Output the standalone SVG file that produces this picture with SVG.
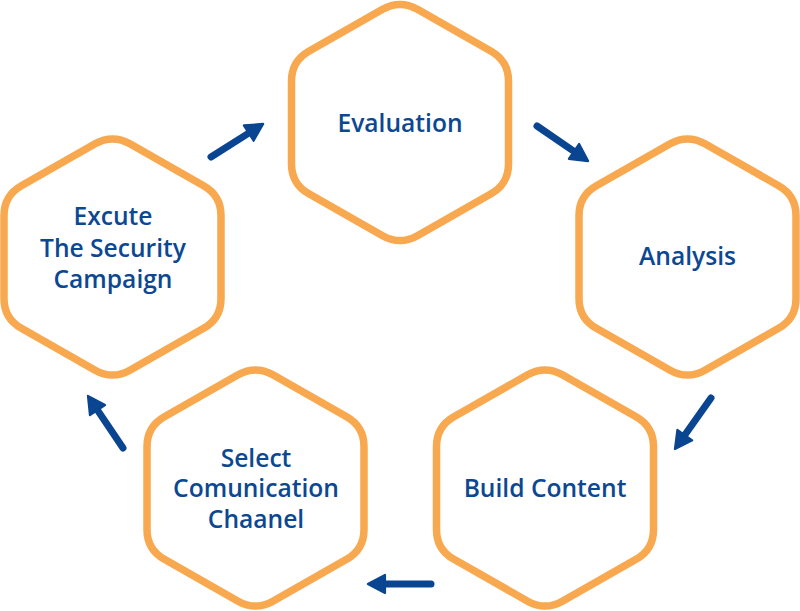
<svg xmlns="http://www.w3.org/2000/svg" width="800" height="611" viewBox="0 0 800 611">
<style>
.hex{fill:#ffffff;stroke:#f8a84f;stroke-width:7.5}
.lbl{font-family:"Open Sans","Noto Sans",sans-serif;font-weight:600;font-size:24.6px;fill:#0c4892;text-anchor:middle}
.arr{stroke:#0a4591;stroke-width:7;stroke-linecap:round;fill:none;marker-end:url(#head)}
</style>
<defs>
<path id="hexshape" d="M17.4,-113.14 L91.1,-71.36 Q108.5,-61.5 108.5,-41.5 L108.5,41.5 Q108.5,61.5 91.1,71.36 L17.4,113.14 Q0,123 -17.4,113.14 L-91.1,71.36 Q-108.5,61.5 -108.5,41.5 L-108.5,-41.5 Q-108.5,-61.5 -91.1,-71.36 L-17.4,-113.14 Q0,-123 17.4,-113.14Z"/>
<marker id="head" markerUnits="userSpaceOnUse" markerWidth="30" markerHeight="30" viewBox="-4 -14 26 28" refX="0" refY="0" orient="auto">
<path d="M0,-8.5 L16,0 L0,8.5 Z" fill="#0a4591" stroke="#0a4591" stroke-width="2" stroke-linejoin="round"/>
</marker>
</defs>
<rect width="800" height="611" fill="#ffffff"/>
<g id="node-evaluation">
<use href="#hexshape" class="hex" transform="translate(400,122.5)"/>
<text class="lbl" x="400" y="131.5">Evaluation</text>
</g>
<g id="node-analysis">
<use href="#hexshape" class="hex" transform="translate(687.5,257)"/>
<text class="lbl" x="687.5" y="265">Analysis</text>
</g>
<g id="node-build-content">
<use href="#hexshape" class="hex" transform="translate(545,488)"/>
<text class="lbl" x="545" y="497">Build Content</text>
</g>
<g id="node-select-channel">
<use href="#hexshape" class="hex" transform="translate(255.5,488)"/>
<text class="lbl" x="256" y="467">Select</text>
<text class="lbl" x="256" y="497">Comunication</text>
<text class="lbl" x="256" y="528">Chaanel</text>
</g>
<g id="node-execute">
<use href="#hexshape" class="hex" transform="translate(112.5,257)"/>
<text class="lbl" x="113" y="225">Excute</text>
<text class="lbl" x="113" y="257">The Security</text>
<text class="lbl" x="113" y="288">Campaign</text>
</g>
<g id="connectors">
<line class="arr" x1="211" y1="157" x2="248.7" y2="133.1"/>
<line class="arr" x1="537" y1="126" x2="574" y2="151.4"/>
<line class="arr" x1="711" y1="398" x2="684.8" y2="435.1"/>
<line class="arr" x1="431" y1="584" x2="385" y2="584"/>
<line class="arr" x1="123" y1="448" x2="97.5" y2="410.1"/>
</g>
</svg>
